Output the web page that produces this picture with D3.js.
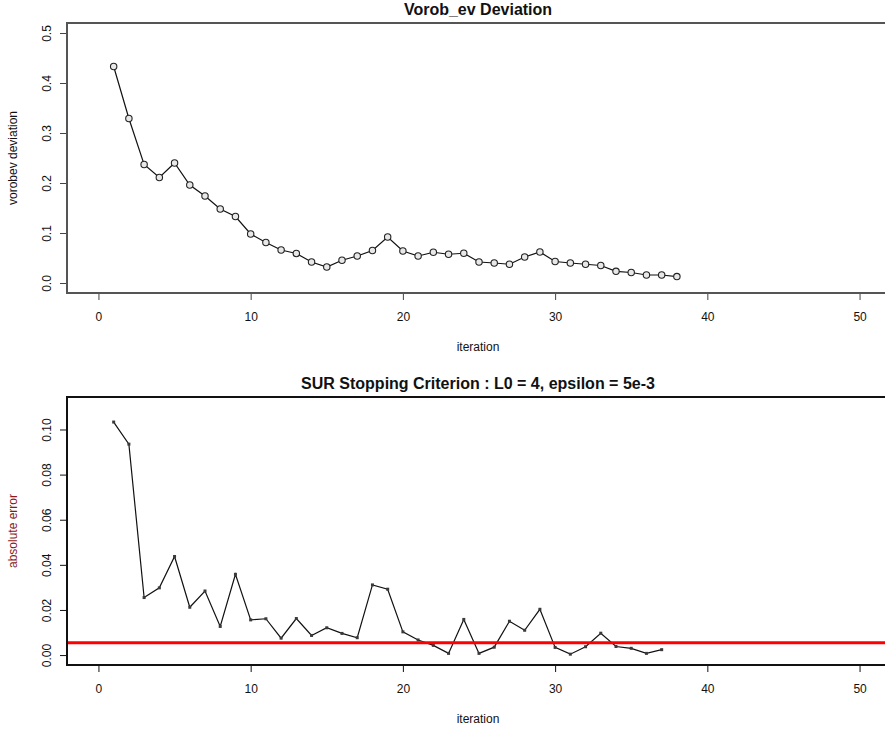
<!DOCTYPE html>
<html><head><meta charset="utf-8">
<script src="https://cdn.jsdelivr.net/npm/d3@7"></script>
<style>body{margin:0;background:#fff}svg{display:block}text{font-family:"Liberation Sans",Arial,sans-serif}</style>
</head><body><svg id="c" width="885" height="731"></svg>
<script>
const iterTop = d3.range(1, 39);
const vorobev = [0.433,0.329,0.237,0.211,0.240,0.196,0.174,0.148,0.133,0.098,
0.081,0.066,0.059,0.042,0.032,0.0455,0.054,0.065,0.092,0.064,
0.054,0.0615,0.0575,0.0595,0.042,0.040,0.0375,0.052,0.062,0.043,
0.040,0.0375,0.035,0.0234,0.021,0.016,0.016,0.0128];
const iterBot = d3.range(1, 38);
const absErr = [0.1033,0.0935,0.0255,0.0298,0.0437,0.0212,0.0284,0.0127,0.0358,0.0156,
0.0161,0.0075,0.0162,0.0087,0.0121,0.0096,0.0077,0.0311,0.0292,0.0103,
0.0067,0.0043,0.00075,0.0158,0.00075,0.0035,0.015,0.011,0.0203,0.0034,
0.0004,0.0037,0.0097,0.0038,0.003,0.00075,0.0024];
const epsilonLine = [0.0055];
const xTicks = [0,10,20,30,40,50];
const yTicksTop = [0,0.1,0.2,0.3,0.4,0.5];
const yTicksBot = [0,0.02,0.04,0.06,0.08,0.10];

const svg = d3.select("#c");

function panel(opt){
  const g = svg.append("g");
  const x = d3.scaleLinear().domain([-2,52]).range([68,890]);
  const y = d3.scaleLinear().domain(opt.ydom).range([opt.bottom, opt.top]);
  g.append("text").attr("x", 478).attr("y", opt.top-8).attr("text-anchor","middle")
    .style("font-weight","bold").style("font-size","16px").attr("fill","#111").text(opt.title);
  const xa = g.append("g").attr("transform",`translate(0,${opt.bottom})`)
    .call(d3.axisBottom(x).tickValues(xTicks).tickSize(7).tickPadding(12).tickFormat(d3.format("d")));
  xa.select(".domain").remove();
  xa.selectAll("line").attr("stroke",opt.axisCol).attr("stroke-width",1);
  xa.selectAll("text").style("font-size","12px").attr("fill","#111").attr("font-family","Liberation Sans Narrow, Liberation Sans, Arial");
  g.append("text").attr("x",478).attr("y",opt.bottom+58).attr("text-anchor","middle")
    .style("font-size","12px").attr("fill","#111").attr("font-family","Liberation Sans Narrow, Liberation Sans, Arial").text("iteration");
  const ya = g.append("g").attr("transform",`translate(67,0)`)
    .call(d3.axisLeft(y).tickValues(opt.yticks).tickSize(7).tickFormat(opt.yfmt));
  ya.select(".domain").remove();
  ya.selectAll("line").attr("stroke",opt.axisCol).attr("stroke-width",1);
  ya.selectAll("text").attr("x",null).attr("dy",null).attr("text-anchor","middle")
    .attr("transform","translate(-20,0) rotate(-90)").attr("dy","0.35em")
    .style("font-size","12px").attr("fill","#111");
  g.append("text").attr("transform",`translate(17,${(opt.top+opt.bottom)/2}) rotate(-90)`)
    .attr("text-anchor","middle").style("font-size","12px").attr("fill",opt.ylabCol).text(opt.ylab);
  const line = d3.line().x((d,i)=>x(opt.xs[i])).y(d=>y(d));
  g.append("path").datum(opt.ys).attr("d",line).attr("fill","none").attr("stroke","#111").attr("stroke-width",1.2);
  if(opt.circles){
    g.selectAll("circle.p").data(opt.ys).enter().append("circle").attr("class","p")
      .attr("cx",(d,i)=>x(opt.xs[i])).attr("cy",d=>y(d)).attr("r",3.2)
      .attr("fill","#e8e8e8").attr("stroke","#222").attr("stroke-width",1.1);
  } else {
    g.selectAll("rect.p").data(opt.ys).enter().append("rect").attr("class","p")
      .attr("x",(d,i)=>x(opt.xs[i])-1.5).attr("y",d=>y(d)-1.5).attr("width",3).attr("height",3)
      .attr("fill","#3a3a3a");
  }
  if(opt.hline){
    g.selectAll("line.h").data(opt.hline).enter().append("line").attr("class","h")
      .attr("x1",68).attr("x2",890).attr("y1",d=>y(d)).attr("y2",d=>y(d))
      .attr("stroke","#ff0000").attr("stroke-width",3);
  }
  g.append("rect").attr("x",67).attr("y",opt.top).attr("width",823).attr("height",opt.bottom-opt.top)
    .attr("fill","none").attr("stroke",opt.boxCol).attr("stroke-width",2);
}

panel({title:"Vorob_ev Deviation", top:23, bottom:293, ydom:[-0.02,0.52], yticks:yTicksTop,
  yfmt:d3.format(".1f"), ylab:"vorobev deviation", ylabCol:"#111", axisCol:"#444", boxCol:"#555",
  xs:iterTop, ys:vorobev, circles:true});
panel({title:"SUR Stopping Criterion : L0 = 4, epsilon = 5e-3", top:397, bottom:665, ydom:[-0.0044,0.1144], yticks:yTicksBot,
  yfmt:d3.format(".2f"), ylab:"absolute error", ylabCol:"#8b1a1a", axisCol:"#111", boxCol:"#111",
  xs:iterBot, ys:absErr, circles:false, hline:epsilonLine});
</script></body></html>
